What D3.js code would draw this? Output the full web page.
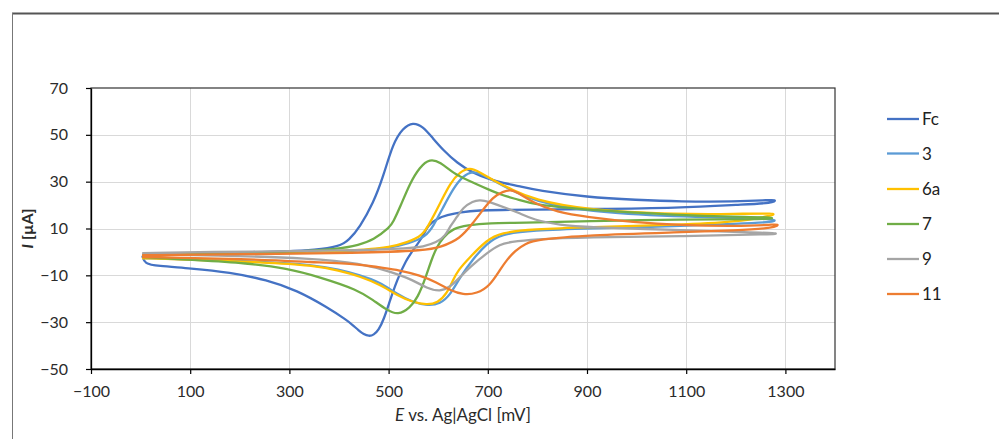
<!DOCTYPE html>
<html><head><meta charset="utf-8">
<script src="https://cdn.jsdelivr.net/npm/d3@7"></script>
<style>
html,body{margin:0;padding:0;background:#fff;}
svg{display:block;font-family:Lato,"Open Sans",sans-serif;}
</style></head>
<body>
<svg id="chart" width="999" height="439"></svg>
<script>
// ---- data (E in mV, I in µA), each loop: forward scan then reverse scan ----
const seriesNames = ["Fc", "3", "6a", "7", "9", "11"];
const seriesColors = ["#4472C4", "#5B9BD5", "#FFC000", "#70AD47", "#A5A5A5", "#ED7D31"];
const xTicks = [-100, 100, 300, 500, 700, 900, 1100, 1300];
const yTicks = [-50, -30, -10, 10, 30, 50, 70];

const loopFc = [[5,-1.6],[100,-0.9],[200,-0.4],[300,0.2],[350,0.8],[400,2.2],[420,5],[442,10.6],[469,20.8],[489,32],[509,46.5],[529,52.9],[549,55.4],[569,53.6],[589,48.6],[610,43.5],[638,38],[670,33.7],[704,31],[730,29.5],[765,28],[800,26.2],[900,23.4],[1000,22.2],[1087,21.5],[1200,21.5],[1260,22],[1283,22.4],
  [1275,20.8],[1210,20.2],[1087,18.8],[900,18.3],[791,18],[725,17.9],[684,17.8],[644,17],[618,15.7],[597,14.2],[579,11.4],[569,6.5],[552,1.5],[535,-3.5],[517,-12],[503,-20.6],[490,-29],[480,-33.3],[470,-35.5],[460,-36],[450,-35.2],[440,-33.6],[428,-31.3],[416,-29.2],[376,-23.6],[315,-16.4],[255,-12],[180,-8.7],[100,-7],[33,-6],[8,-5],[4,-2]];
const loop3 = [[5,-1.5],[100,-0.9],[200,-0.5],[300,-0.1],[400,0.3],[450,0.7],[503,1.7],[540,3.5],[575,6.5],[590,11],[610,19],[630,27],[650,32.5],[670,34.6],[690,33],[715,30],[751,26],[791,22],[900,17],[1087,15],[1200,14.6],[1283,14],
  [1280,12.7],[1200,12],[1087,11],[900,10],[791,9.2],[725,7.6],[698,3.5],[670,-3],[644,-10.8],[624,-18.5],[604,-22.2],[579,-23],[549,-21.5],[517,-18],[483,-13],[442,-9.9],[400,-7.5],[348,-5.5],[247,-4.2],[100,-3.2],[5,-2.6]];
const loop6a = [[5,-1.4],[100,-0.8],[200,-0.4],[300,0],[400,0.5],[450,0.9],[503,2],[537,4],[569,7],[583,12.3],[604,20.8],[624,29.4],[644,34.2],[664,36.1],[684,34],[710,30.7],[751,26.4],[791,22.5],[900,17.8],[1087,16],[1200,16.2],[1283,16.6],
  [1275,15.5],[1200,12.8],[1087,11.6],[900,10.6],[791,9.7],[725,8.2],[698,5],[664,-2.2],[640,-7.8],[630,-12],[618,-17.6],[599,-21.8],[577,-22.6],[549,-21.5],[517,-18.5],[483,-14],[442,-10.4],[400,-8],[348,-5.7],[247,-4.4],[100,-3.3],[5,-2.7]];
const loop7 = [[5,-1.6],[100,-1],[200,-0.5],[300,0],[400,1.2],[440,3],[469,5],[503,10.6],[509,12.7],[523,19],[543,29.4],[563,36.3],[583,39.8],[604,38.4],[630,33.7],[658,30.7],[704,26.4],[725,24.5],[765,22.1],[791,20.3],[900,17.9],[1087,15.7],[1200,15],[1283,14.8],
  [1270,13.8],[1087,14],[900,13.1],[765,12.4],[704,12.3],[658,11.4],[630,10],[610,6.3],[597,2],[587,-3],[573,-12],[559,-19.3],[543,-24],[519,-27],[497,-24.9],[469,-20.6],[438,-16.2],[362,-10.8],[295,-7],[214,-4.8],[114,-3.5],[5,-2.2]];
const loop9 = [[5,-0.5],[146,0],[300,0.3],[442,0.7],[543,1.6],[569,2.2],[597,4],[615,7],[624,11],[638,14.9],[650,19],[670,21.7],[684,22.3],[704,21.3],[720,20],[740,18.5],[765,16.5],[791,13.8],[846,11.4],[900,10.6],[1087,9.3],[1200,8.5],[1290,8],
  [1280,7.5],[1087,6.7],[900,6.3],[791,5.4],[745,4.2],[725,3.3],[698,-0.5],[664,-6.5],[644,-10.8],[624,-15],[604,-17],[577,-15.5],[549,-12],[509,-8.7],[442,-4.8],[348,-2.7],[146,-1.4],[5,-1]];
const loop11 = [[5,-1.4],[200,-1],[442,-0.5],[577,0.7],[604,2],[644,5.5],[670,12.3],[690,17.9],[710,23.4],[731,25.8],[745,26.6],[760,25.5],[791,21],[839,17],[900,14.9],[993,12.7],[1087,11.4],[1200,11],[1270,11.5],[1288,12],
  [1280,10.2],[1200,9.2],[1087,8.4],[900,7.2],[800,5.3],[775,3.5],[755,0.5],[738,-3.5],[725,-7.5],[704,-14.5],[678,-17.8],[650,-18.3],[624,-16.4],[597,-13],[563,-10],[523,-7.8],[477,-6.5],[442,-5.2],[348,-4.4],[214,-3],[5,-2.2]];

const loops = [loopFc, loop3, loop6a, loop7, loop9, loop11];

// ---- layout ----
const svg = d3.select("#chart");
const plot = {left: 91, right: 835, top: 88, bottom: 369};
const x = d3.scaleLinear().domain([-100, 1400]).range([plot.left, plot.right]);
const y = d3.scaleLinear().domain([-50, 70]).range([plot.bottom, plot.top]);
const fmt = d => (d < 0 ? "\u2212" + Math.abs(d) : String(d));

// outer frame
svg.append("line").attr("x1", 12).attr("x2", 999).attr("y1", 13.5).attr("y2", 13.5).attr("stroke", "#555").attr("stroke-width", 2);
svg.append("line").attr("x1", 12.5).attr("x2", 12.5).attr("y1", 13).attr("y2", 439).attr("stroke", "#777").attr("stroke-width", 1);

// gridlines
const grid = svg.append("g");
grid.selectAll(".gx").data(xTicks.slice(1)).join("line")
  .attr("x1", d => Math.round(x(d)) + 0.5).attr("x2", d => Math.round(x(d)) + 0.5)
  .attr("y1", plot.top).attr("y2", plot.bottom).attr("stroke", "#d9d9d9").attr("stroke-width", 1);
grid.selectAll(".gy").data(yTicks.slice(1, -1)).join("line")
  .attr("x1", plot.left).attr("x2", plot.right)
  .attr("y1", d => Math.round(y(d)) + 0.5).attr("y2", d => Math.round(y(d)) + 0.5)
  .attr("stroke", "#d9d9d9").attr("stroke-width", 1);

// plot area border
svg.append("rect").attr("x", plot.left).attr("y", plot.top).attr("width", plot.right - plot.left).attr("height", plot.bottom - plot.top)
  .attr("fill", "none").attr("stroke", "#333").attr("stroke-width", 1.2);

// curves
const line = d3.line().x(d => x(d[0])).y(d => y(d[1])).curve(d3.curveBasis);
svg.append("g").selectAll("path").data(loops).join("path")
  .attr("d", d => line(d)).attr("fill", "none")
  .attr("stroke", (d, i) => seriesColors[i]).attr("stroke-width", 2.3)
  .attr("stroke-linejoin", "round").attr("stroke-linecap", "round");

// axes
const xAxis = svg.append("g").attr("transform", `translate(0,${plot.bottom})`)
  .call(d3.axisBottom(x).tickValues(xTicks).tickFormat(fmt).tickSizeOuter(0).tickSizeInner(5).tickPadding(12));
const yAxis = svg.append("g").attr("transform", `translate(${plot.left},0)`)
  .call(d3.axisLeft(y).tickValues(yTicks).tickFormat(fmt).tickSizeOuter(0).tickSizeInner(5).tickPadding(18));
[xAxis, yAxis].forEach(a => {
  a.select(".domain").attr("stroke", "#000").attr("stroke-width", 1.3);
  a.selectAll(".tick line").attr("stroke", "#000").attr("stroke-width", 1.2);
  a.selectAll(".tick text").attr("fill", "#2b2b2b").style("font-size", "16px").style("font-family", "Lato, 'Open Sans', sans-serif");
});

// axis titles
const xt = svg.append("text").attr("x", (plot.left + plot.right) / 2).attr("y", 421)
  .attr("text-anchor", "middle").attr("fill", "#2b2b2b").style("font-size", "17px");
xt.append("tspan").attr("font-style", "italic").text("E");
xt.append("tspan").text(" vs. Ag|AgCl [mV]");

const yt = svg.append("text").attr("transform", `translate(33,${(plot.top + plot.bottom) / 2}) rotate(-90)`)
  .attr("text-anchor", "middle").attr("fill", "#2b2b2b").attr("font-weight", "bold").style("font-size", "16px");
yt.append("tspan").attr("font-style", "italic").text("I");
yt.append("tspan").text(" [\u00b5A]");

// legend
const legY = [119, 153.5, 189, 224, 259, 294];
const leg = svg.append("g").selectAll("g").data(seriesNames).join("g")
  .attr("transform", (d, i) => `translate(887,${legY[i]})`);
leg.append("line").attr("x1", 0).attr("x2", 32).attr("y1", 0).attr("y2", 0)
  .attr("stroke", (d, i) => seriesColors[i]).attr("stroke-width", 2.3);
leg.append("text").attr("x", 35).attr("y", 0).attr("dy", "0.36em").attr("fill", "#222")
  .style("font-size", "17px").text(d => d);
</script>
</body></html>
